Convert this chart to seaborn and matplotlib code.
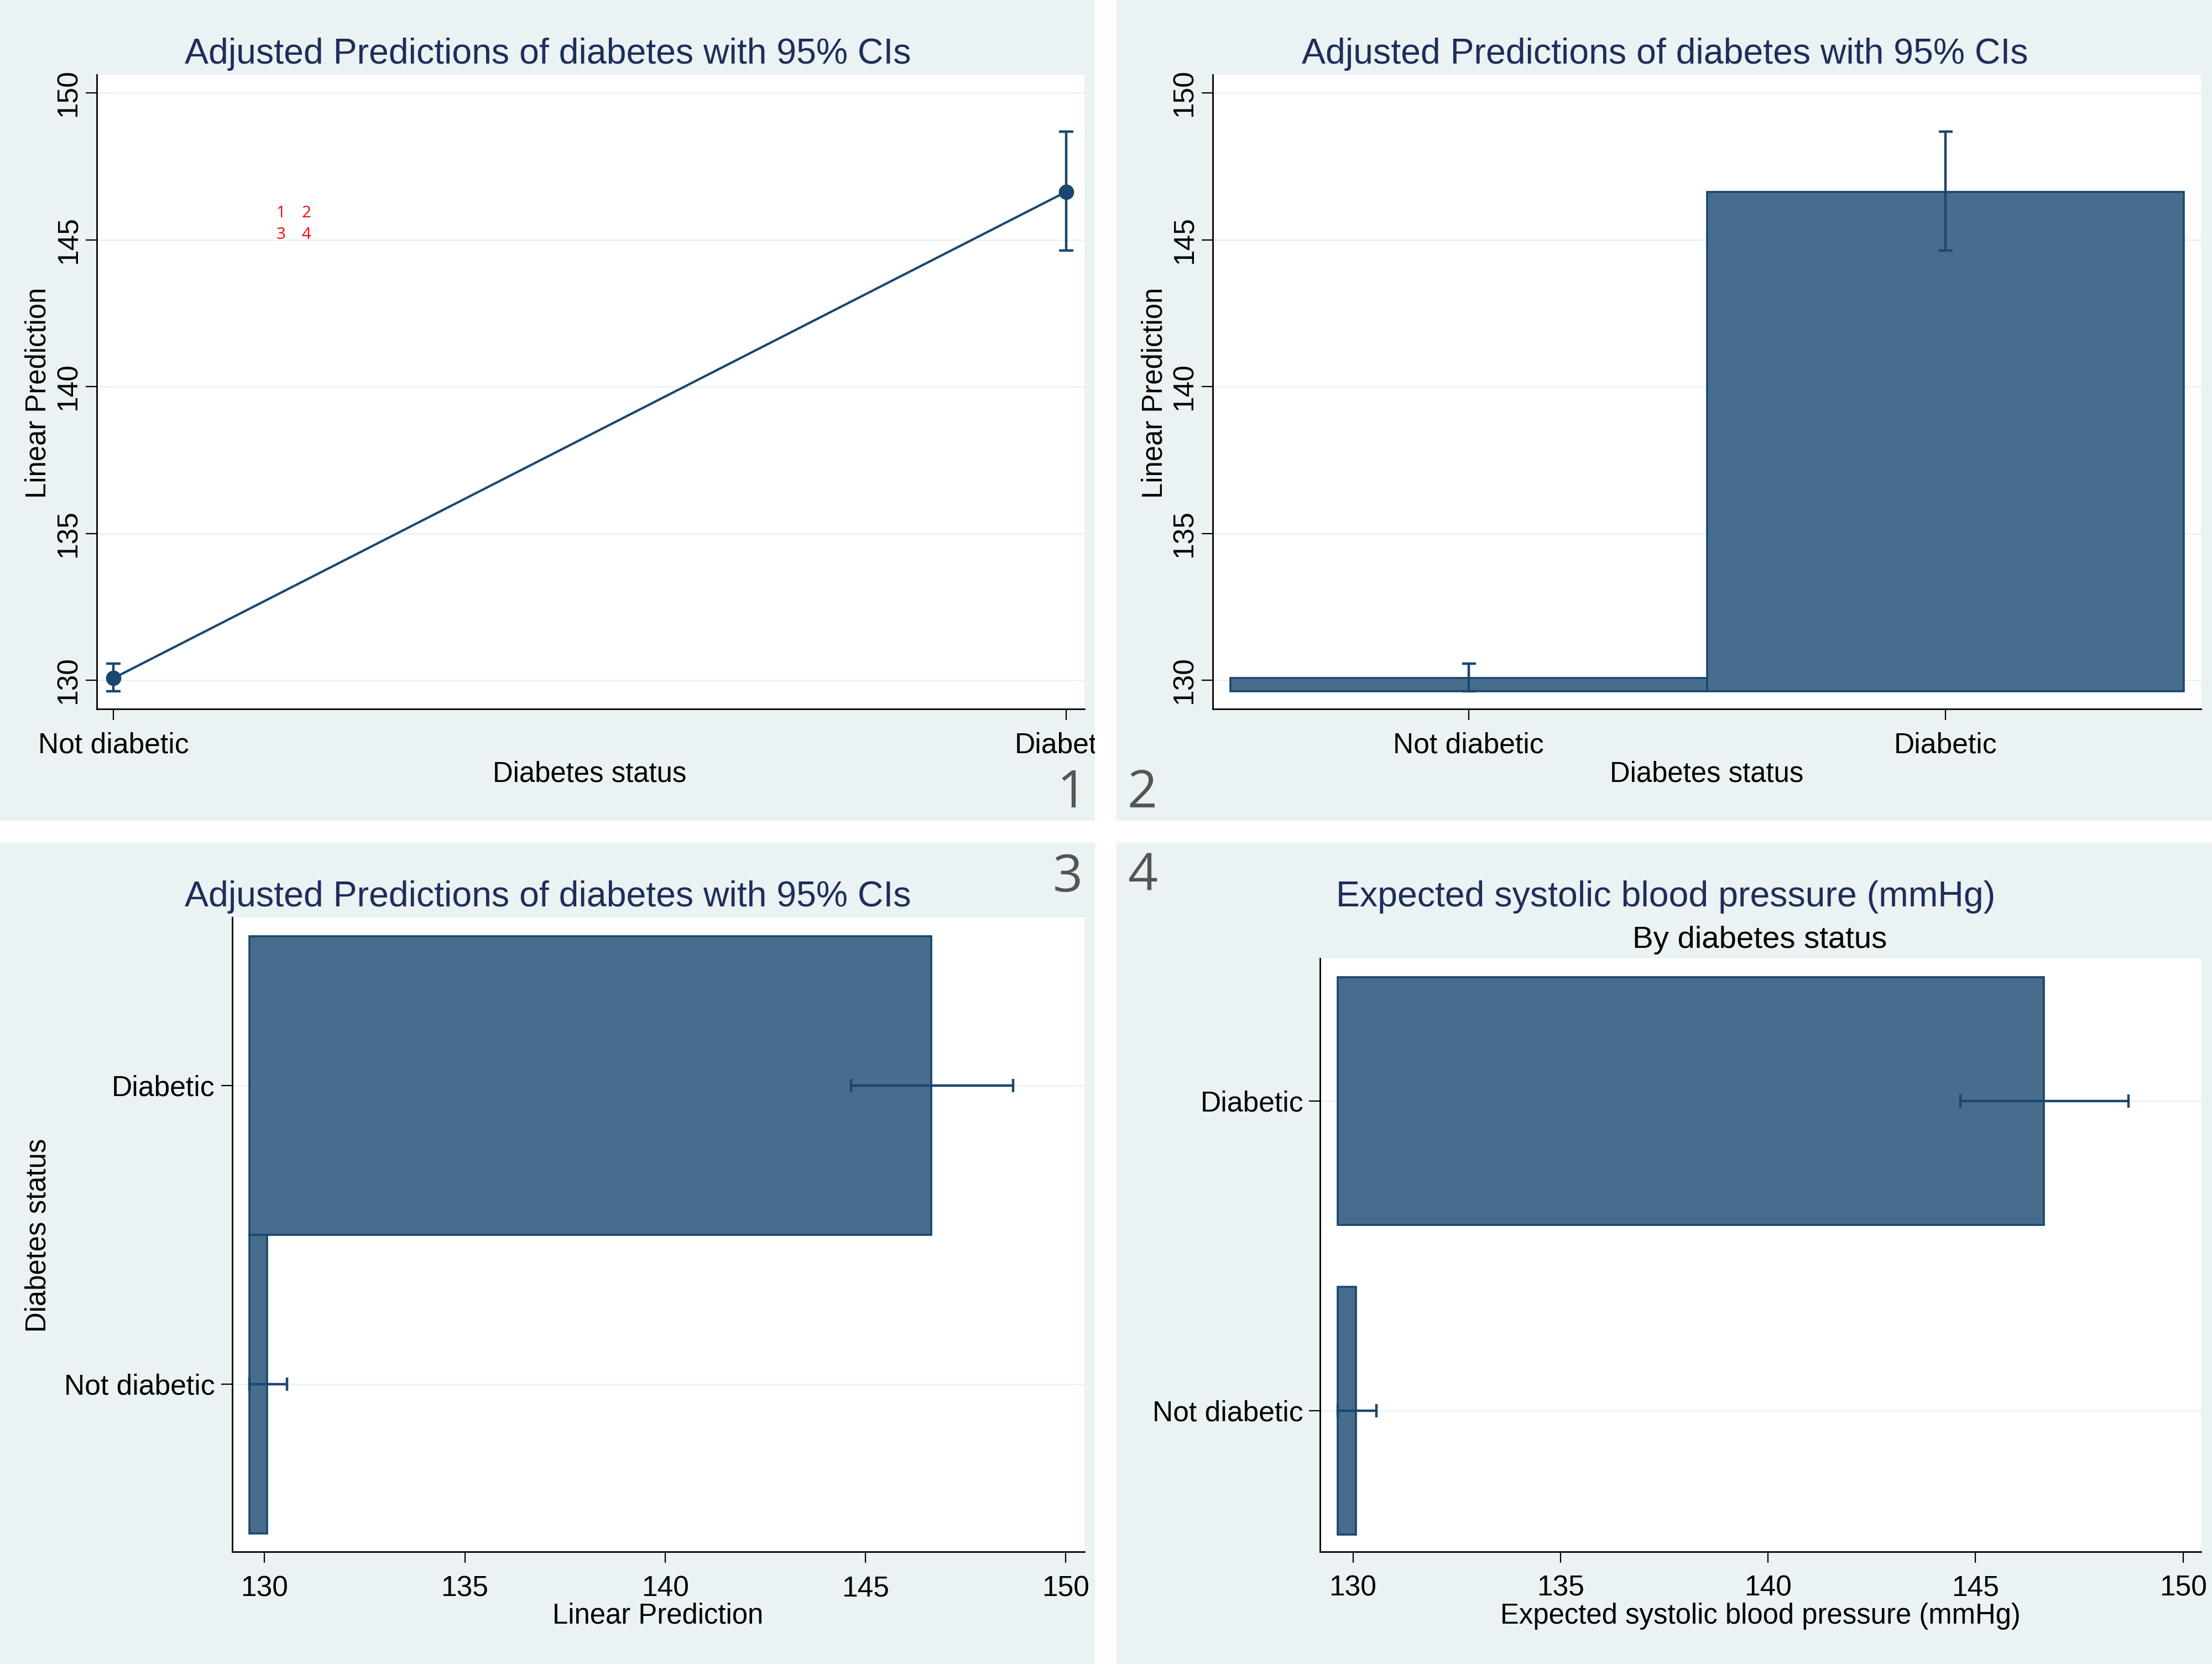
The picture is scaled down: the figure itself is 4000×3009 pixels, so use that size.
import numpy as np
import pandas as pd
import matplotlib
matplotlib.use("Agg")
import matplotlib.pyplot as plt
from matplotlib.patches import Rectangle
import seaborn as sns

# adjusted predictions (margins) of systolic blood pressure by diabetes status
STATUS = ["Not diabetic", "Diabetic"]
PRED_MEAN = [130.07, 146.64]
PRED_LO = [129.63, 144.64]
PRED_HI = [130.56, 148.69]

VALUE_TICKS = [130, 135, 140, 145, 150]

TITLE = "Adjusted Predictions of diabetes with 95% CIs"
TITLE4 = "Expected systolic blood pressure (mmHg)"
SUBTITLE4 = "By diabetes status"
XLAB = "Diabetes status"
YLAB = "Linear Prediction"
XLAB4 = "Expected systolic blood pressure (mmHg)"
PANEL_NUMS = ["1", "2", "3", "4"]
LAYOUT_KEY = ["1", "2", "3", "4"]

W, H, DPI = 4000, 3009, 200
NAVY = "#1A476F"
BAR_FILL = "#486C8C"
BG = "#EAF2F3"
TITLE_COL = "#1E2D59"
NUM_COL = "#555555"
TICK_SIZE = 18.6
ERR_LW = 1.6

sns.set_theme(style="white")
plt.rcParams["font.family"] = ["Liberation Sans", "DejaVu Sans"]

df = pd.DataFrame({"status": STATUS, "mean": PRED_MEAN, "lo": PRED_LO, "hi": PRED_HI})
base = df["lo"].min()          # Stata draws the bars up from the lowest CI bound
df["height"] = df["mean"] - base
err = [df["mean"] - df["lo"], df["hi"] - df["mean"]]


def fx(px):
    return px / W


def fy(py):
    return 1 - py / H


def px_box(x0, y0, x1, y1):
    return [fx(x0), fy(y1), (x1 - x0) / W, (y1 - y0) / H]


fig = plt.figure(figsize=(W / DPI, H / DPI), dpi=DPI, facecolor="white")

for x0, y0, x1, y1 in [(0, 0, 1980, 1484), (2019, 0, 4000, 1484),
                       (0, 1524, 1980, 3009), (2019, 1524, 4000, 3009)]:
    fig.add_artist(Rectangle((fx(x0), fy(y1)), (x1 - x0) / W, (y1 - y0) / H,
                             transform=fig.transFigure, facecolor=BG,
                             edgecolor="none", zorder=-5))

ax1 = fig.add_axes(px_box(174.7, 134.5, 1960.7, 1282))
ax2 = fig.add_axes(px_box(2192.6, 134.5, 3980, 1282))
ax3 = fig.add_axes(px_box(419.6, 1658.8, 1960.7, 2806))
ax4 = fig.add_axes(px_box(2386.5, 1732.9, 3980, 2806))


def style_axes(ax, xpad, ypad):
    ax.set_facecolor("white")
    sns.despine(ax=ax)
    for side in ["left", "bottom"]:
        ax.spines[side].set_color("black")
        ax.spines[side].set_linewidth(1.0)
    ax.tick_params(bottom=True, left=True, direction="out", length=7.2,
                   width=0.8, color="black", labelsize=TICK_SIZE, labelcolor="black")
    ax.tick_params(axis="x", pad=xpad)
    ax.tick_params(axis="y", pad=ypad)
    ax.set_axisbelow(True)
    ax.grid(axis="y", color=BG, linewidth=1.0)
    ax.grid(axis="x", visible=False)


def place_labels(ax, xlab, xlab_pos, ylab=None, ylab_pos=None):
    ax.set_xlabel(xlab, fontsize=18.3, color="black")
    ax.xaxis.set_label_coords(fx(xlab_pos[0]), fy(xlab_pos[1]), transform=fig.transFigure)
    if ylab is None:
        ax.set_ylabel("")
    else:
        ax.set_ylabel(ylab, fontsize=18.3, color="black")
        ax.yaxis.set_label_coords(fx(ylab_pos[0]), fy(ylab_pos[1]), transform=fig.transFigure)


# panel 1: connected points with CIs
sns.pointplot(data=df, x="status", y="mean", order=STATUS, errorbar=None,
              color=NAVY, markers="o", markersize=10, markeredgewidth=0,
              linewidth=1.5, ax=ax1)
ax1.errorbar(np.arange(len(df)), df["mean"], yerr=err, fmt="none",
             ecolor=NAVY, elinewidth=ERR_LW, capsize=4.7, capthick=ERR_LW)
style_axes(ax1, xpad=7.6, ypad=2.2)
ax1.set_xlim(-0.0178, 1.019)
ax1.set_ylim(129.02, 150.64)
ax1.set_yticks(VALUE_TICKS)
plt.setp(ax1.get_yticklabels(), rotation=90, va="center")
place_labels(ax1, XLAB, (1066, 1376), YLAB, (94, 710))

# panel 2: vertical bars with CIs
sns.barplot(data=df, x="status", y="height", order=STATUS, bottom=base,
            width=1.0, color=BAR_FILL, saturation=1, edgecolor=NAVY,
            linewidth=1.3, errorbar=None, ax=ax2)
ax2.errorbar(np.arange(len(df)), df["mean"], yerr=err, fmt="none",
             ecolor=NAVY, elinewidth=ERR_LW, capsize=4.5, capthick=ERR_LW)
style_axes(ax2, xpad=7.6, ypad=2.2)
ax2.set_xlim(-0.537, 1.536)
ax2.set_ylim(129.02, 150.64)
ax2.set_yticks(VALUE_TICKS)
plt.setp(ax2.get_yticklabels(), rotation=90, va="center")
place_labels(ax2, XLAB, (3086, 1376), YLAB, (2113, 710))

# panels 3 and 4: horizontal bars, Diabetic on top
order_h = STATUS[::-1]
pos_h = [order_h.index(s) for s in df["status"]]

sns.barplot(data=df, y="status", x="height", order=order_h, left=base,
            orient="y", width=1.0, color=BAR_FILL, saturation=1,
            edgecolor=NAVY, linewidth=1.3, errorbar=None, ax=ax3)
ax3.errorbar(df["mean"], pos_h, xerr=err, fmt="none",
             ecolor=NAVY, elinewidth=ERR_LW, capsize=4.3, capthick=ERR_LW)
style_axes(ax3, xpad=8.2, ypad=4.0)
ax3.set_xlim(129.19, 150.46)
ax3.set_ylim(1.561, -0.563)
ax3.set_xticks(VALUE_TICKS)
place_labels(ax3, YLAB, (1189.5, 2898), XLAB, (94, 2234))

sns.barplot(data=df, y="status", x="height", order=order_h, left=base,
            orient="y", width=0.8, color=BAR_FILL, saturation=1,
            edgecolor=NAVY, linewidth=1.3, errorbar=None, ax=ax4)
ax4.errorbar(df["mean"], pos_h, xerr=err, fmt="none",
             ecolor=NAVY, elinewidth=ERR_LW, capsize=4.3, capthick=ERR_LW)
style_axes(ax4, xpad=7.6, ypad=3.4)
ax4.set_xlim(129.2, 150.43)
ax4.set_ylim(1.4555, -0.4605)
ax4.set_xticks(VALUE_TICKS)
place_labels(ax4, XLAB4, (3183.6, 2898))

# titles, centred on each panel
for text, cx, base_y in [(TITLE, 991, 115), (TITLE, 3011, 115),
                         (TITLE, 991, 1639.5), (TITLE4, 3012, 1639.5)]:
    fig.text(fx(cx), fy(base_y), text, ha="center", va="baseline",
             fontsize=23.2, color=TITLE_COL)
fig.text(fx(3182), fy(1713.6), SUBTITLE4, ha="center", va="baseline",
         fontsize=20.3, color="black")

# panel numbers
for num, (px, py, ha) in zip(PANEL_NUMS, [(1966, 1460, "right"), (2038, 1460, "left"),
                                          (1958, 1612, "right"), (2040, 1611, "left")]):
    fig.text(fx(px), fy(py), num, ha=ha, va="baseline", fontsize=34,
             color=NUM_COL, family=["Open Sans", "DejaVu Sans"])

# small red layout key inside panel 1
for key, (px, py) in zip(LAYOUT_KEY, [(508, 393), (554, 393), (508, 432), (554, 432)]):
    fig.text(fx(px), fy(py), key, ha="center", va="baseline", fontsize=10.6,
             color="#FF0000", family=["Open Sans", "DejaVu Sans"])

# white gutters between panels (they also crop the "Diabetic" label of panel 1)
fig.add_artist(Rectangle((fx(1980), 0), (2019 - 1980) / W, 1, transform=fig.transFigure,
                         facecolor="white", edgecolor="none", zorder=10))
fig.add_artist(Rectangle((0, fy(1524)), 1, (1524 - 1484) / H, transform=fig.transFigure,
                         facecolor="white", edgecolor="none", zorder=10))

fig.savefig("out.png", dpi=DPI, facecolor="white")
